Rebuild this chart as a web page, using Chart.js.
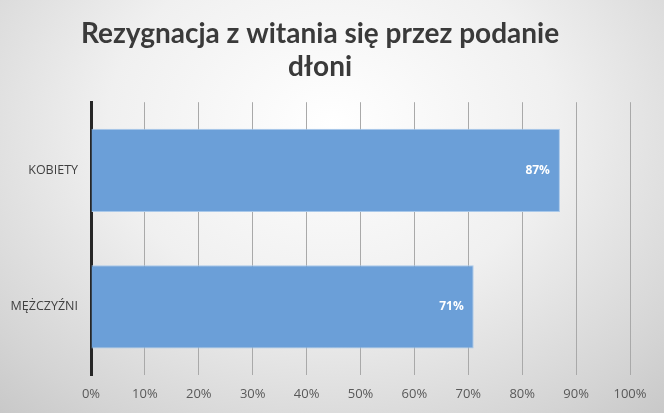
<!DOCTYPE html>
<html>
<head>
<meta charset="utf-8">
<script src="https://cdn.jsdelivr.net/npm/chart.js@4"></script>
<style>
  html, body { margin: 0; padding: 0; }
  body {
    width: 664px; height: 413px; overflow: hidden;
    background: radial-gradient(ellipse 75% 95% at 50% 30%, #ffffff 0%, #f0f0f0 45%, #d4d4d4 85%, #c8c8c8 100%);
  }
  #wrap { width: 664px; height: 413px; position: relative; }
</style>
</head>
<body>
<div id="wrap"><canvas id="chart"></canvas></div>
<script>
const categories = ['KOBIETY', 'MĘŻCZYŹNI'];
const values = [87, 71];
const tickValues = [0, 10, 20, 30, 40, 50, 60, 70, 80, 90, 100];

const chart = document.querySelector('#chart').getContext('2d');

// white value labels near the end of each bar
const barLabels = {
  id: 'barLabels',
  afterDatasetsDraw(c) {
    const ctx = c.ctx;
    const meta = c.getDatasetMeta(0);
    ctx.save();
    ctx.fillStyle = '#ffffff';
    ctx.font = 'bold 12px "Open Sans"';
    ctx.textAlign = 'right';
    ctx.textBaseline = 'middle';
    meta.data.forEach((bar, i) => {
      ctx.fillText(values[i] + '%', bar.x - 10, bar.y);
    });
    ctx.restore();
  }
};

new Chart(chart, {
  type: 'bar',
  data: {
    labels: categories,
    datasets: [{
      data: values,
      backgroundColor: '#6b9fd8',
      borderColor: '#a8c8ea',
      borderWidth: 1,
      barPercentage: 0.61,
      categoryPercentage: 1
    }]
  },
  options: {
    indexAxis: 'y',
    responsive: true,
    maintainAspectRatio: false,
    animation: false,
    layout: { padding: { left: 10, right: 34, top: 0, bottom: 0 } },
    plugins: {
      legend: { display: false },
      tooltip: { enabled: false },
      title: {
        display: true,
        text: ['Rezygnacja z witania się przez podanie', 'dłoni'],
        color: '#3a3a3a',
        font: { family: 'Lato', size: 28, weight: 'bold', lineHeight: 1.2 },
        padding: { top: 17, bottom: 18 }
      }
    },
    scales: {
      x: {
        min: 0,
        max: 100,
        afterBuildTicks: (s) => { s.ticks = tickValues.map(v => ({ value: v })); },
        afterFit: (s) => { s.height = 38; },
        grid: { color: '#a9a9a9', drawTicks: false },
        border: { display: false },
        ticks: {
          color: '#595959',
          font: { family: 'Open Sans', size: 13 },
          padding: 11,
          callback: (v) => v + '%'
        }
      },
      y: {
        afterFit: (s) => { s.width = 81; },
        grid: { display: false, drawTicks: false },
        border: { display: true, color: '#262626', width: 3 },
        ticks: {
          color: '#404040',
          font: { family: 'Open Sans', size: 12.5 },
          padding: 13
        }
      }
    }
  },
  plugins: [barLabels]
});
</script>
</body>
</html>
